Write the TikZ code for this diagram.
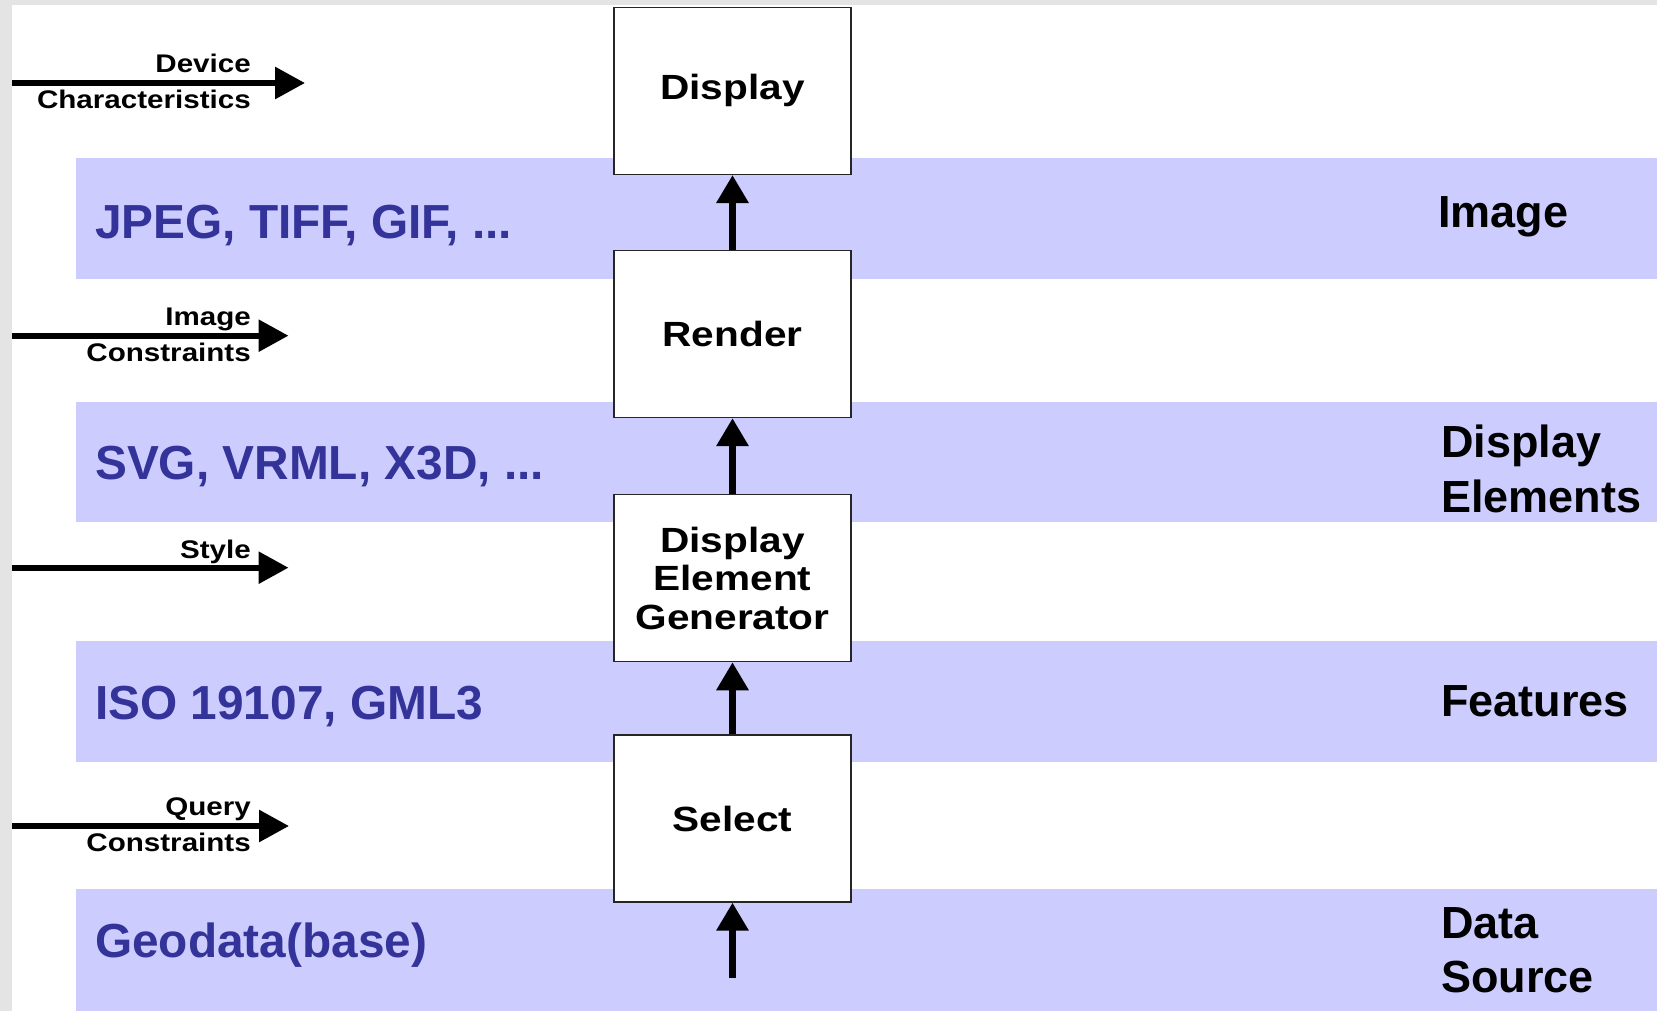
\documentclass[tikz,border=0pt]{standalone}
\usepackage{fontspec}
\setmainfont{Liberation Sans}
\newfontfamily\widefont[FakeStretch=1.16]{Liberation Sans}
\usetikzlibrary{arrows.meta}
\definecolor{bandblue}{RGB}{204,204,255}
\definecolor{textblue}{RGB}{51,51,153}
\definecolor{framegray}{RGB}{228,228,228}
\begin{document}
\begin{tikzpicture}[x=1pt,y=-1pt,
  procbox/.style={draw=black!85, line width=1.4pt, fill=white, minimum width=237pt, minimum height=167pt, inner sep=0pt, align=center, font=\widefont\bfseries\fontsize{35}{38.5}\selectfont},
  flow/.style={line width=6.5pt, -{Triangle[length=28pt,width=31pt]}},
  inarrow/.style={line width=6pt, -{Triangle[length=30pt,width=31pt]}},
  inlabel/.style={font=\widefont\bfseries\fontsize{25.5}{30}\selectfont, inner sep=0pt, anchor=base east},
  bandtext/.style={font=\bfseries\fontsize{47.8}{56}\selectfont, text=textblue, inner sep=0pt, anchor=base west},
  layertext/.style={font=\bfseries\fontsize{45}{54}\selectfont, inner sep=0pt, anchor=base west},
]
\useasboundingbox (0,0) rectangle (1657,1011);
% frame and background
\fill[framegray] (0,0) rectangle (1657,1011);
\fill[white] (12,5) rectangle (1657,1011);
% bands
\fill[bandblue] (76,158.5) rectangle (1657,278.7);
\fill[bandblue] (76,401.7) rectangle (1657,521.7);
\fill[bandblue] (76,640.5) rectangle (1657,761.5);
\fill[bandblue] (76,889.3) rectangle (1657,1011);
% band texts
\node[bandtext] (fmtimg) at (95,238) {JPEG, TIFF, GIF, ...};
\node[bandtext] (fmtel) at (95,479) {SVG, VRML, X3D, ...};
\node[bandtext] (fmtfeat) at (95,719) {ISO 19107, GML3};
\node[bandtext] (fmtdata) at (95,957) {Geodata(base)};
% layer labels
\node[layertext] (lyimg) at (1438,227.7) {Image};
\node[layertext] (lyelA) at (1441,457.6) {Display};
\node[layertext] (lyelB) at (1441,512.4) {Elements};
\node[layertext] (lyfeat) at (1441,716.7) {Features};
\node[layertext] (lydataA) at (1441,938) {Data};
\node[layertext] (lydataB) at (1441,992) {Source};
% process boxes
\node[procbox] (display) at (732.5,90.9) {Display};
\node[procbox] (render) at (732.5,334) {Render};
\node[procbox] (deg) at (732.5,578.1) {Display\\Element\\Generator};
\node[procbox] (select) at (732.5,818.5) {Select};
% flow arrows
\draw[flow] (render.north) -- (display.south);
\draw[flow] (deg.north) -- (render.south);
\draw[flow] (select.north) -- (deg.south);
\coordinate (src) at (732.5,977.5);
\draw[flow] (src) -- (select.south);
% input arrows
\coordinate (inAs) at (12,83);
\coordinate (inAe) at (305,83);
\draw[inarrow] (inAs) -- (inAe);
\node[inlabel] (devA) at (251,72.7) {Device};
\node[inlabel] (devB) at (251,109) {Characteristics};
\coordinate (inBs) at (12,335.7);
\coordinate (inBe) at (288.5,335.7);
\draw[inarrow] (inBs) -- (inBe);
\node[inlabel] (imcA) at (251,325) {Image};
\node[inlabel] (imcB) at (251,361.7) {Constraints};
\coordinate (inCs) at (12,567.7);
\coordinate (inCe) at (288.5,567.7);
\draw[inarrow] (inCs) -- (inCe);
\node[inlabel] (sty) at (251,558.3) {Style};
\coordinate (inDs) at (12,826);
\coordinate (inDe) at (289,826);
\draw[inarrow] (inDs) -- (inDe);
\node[inlabel] (qryA) at (251,815) {Query};
\node[inlabel] (qryB) at (251,851.7) {Constraints};
\end{tikzpicture}
\end{document}
